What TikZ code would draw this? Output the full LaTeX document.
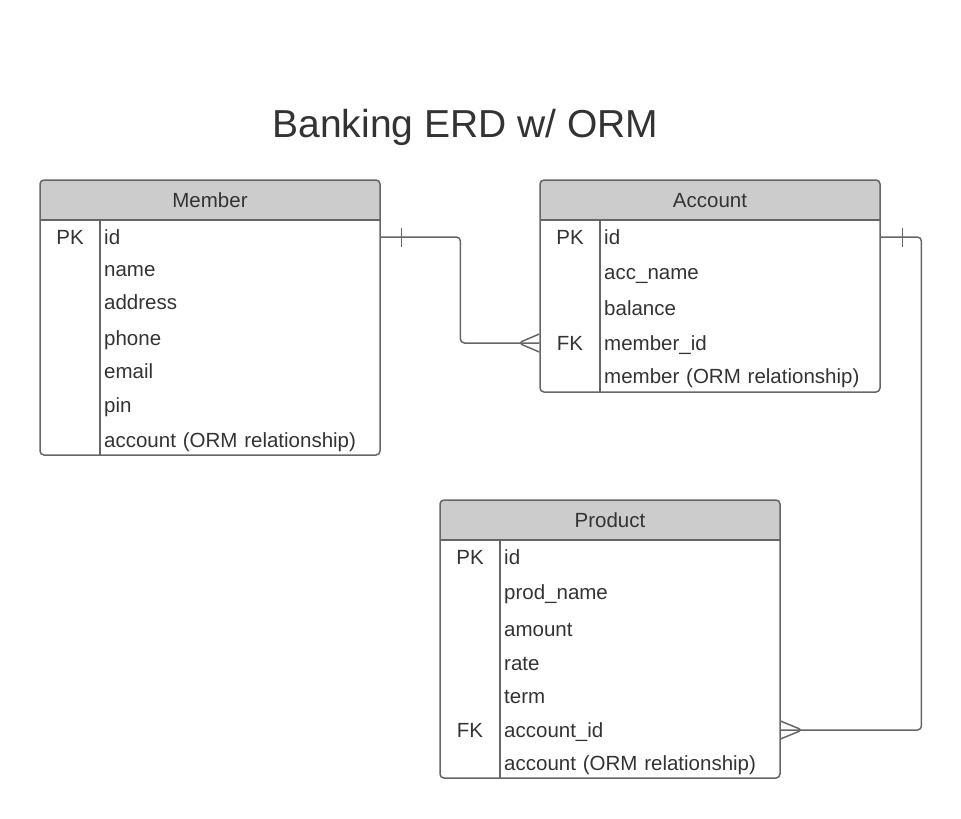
\documentclass[tikz,border=0pt]{standalone}
\usepackage{fontspec}
\setmainfont{Liberation Sans}
\definecolor{erdline}{HTML}{666666}
\definecolor{erdhead}{HTML}{CCCCCC}
\definecolor{erdtext}{HTML}{333333}
\begin{document}
\begin{tikzpicture}[x=1pt,y=-1pt,
    tablebox/.style={draw=erdline,line width=1.5pt,rounded corners=4pt,minimum width=340pt,inner sep=0pt},
    cell/.style={text=erdtext,font=\fontsize{20.5}{24}\selectfont,text height=18pt,text depth=4pt,inner sep=0pt},
    field/.style={cell,anchor=west,text width=272pt,inner xsep=4pt,align=left},
    rule/.style={draw=erdline,line width=1.5pt},
    link/.style={draw=erdline,line width=1.5pt,rounded corners=4pt}]
  \useasboundingbox (0,0) rectangle (961,819);
  \node[text=erdtext,font=\fontsize{39}{46}\selectfont,anchor=base] (title) at (465.5,137) {Banking ERD w/ ORM};

  % Member
  \fill[erdhead,rounded corners=4pt] (40,180) rectangle (380,220);
  \fill[erdhead] (40,200) rectangle (380,220);
  \node[tablebox,minimum height=275pt] (member) at (210,317.5) {};
  \draw[rule] (40,220) -- (380,220) (100,220) -- (100,455);
  \node[cell] (m-head) at (210,200) {Member};
  \node[cell] (m-pk) at (70,237) {PK};
  \node[field] (m-id) at (100,237) {id};
  \node[field] (m-name) at (100,269) {name};
  \node[field] (m-address) at (100,302) {address};
  \node[field] (m-phone) at (100,338) {phone};
  \node[field] (m-email) at (100,371) {email};
  \node[field] (m-pin) at (100,405) {pin};
  \node[field] (m-account) at (100,440) {account (ORM relationship)};

  % Account
  \fill[erdhead,rounded corners=4pt] (540,180) rectangle (880,220);
  \fill[erdhead] (540,200) rectangle (880,220);
  \node[tablebox,minimum height=212pt] (account) at (710,286) {};
  \draw[rule] (540,220) -- (880,220) (600,220) -- (600,392);
  \node[cell] (a-head) at (710,200) {Account};
  \node[cell] (a-pk) at (570,237) {PK};
  \node[field] (a-id) at (600,237) {id};
  \node[field] (a-accname) at (600,272) {acc\_name};
  \node[field] (a-balance) at (600,308) {balance};
  \node[cell] (a-fk) at (570,343) {FK};
  \node[field] (a-memberid) at (600,343) {member\_id};
  \node[field] (a-member) at (600,376) {member (ORM relationship)};

  % Product
  \fill[erdhead,rounded corners=4pt] (440,500) rectangle (780,540);
  \fill[erdhead] (440,520) rectangle (780,540);
  \node[tablebox,minimum height=278pt] (product) at (610,639) {};
  \draw[rule] (440,540) -- (780,540) (500,540) -- (500,778);
  \node[cell] (p-head) at (610,520) {Product};
  \node[cell] (p-pk) at (470,557) {PK};
  \node[field] (p-id) at (500,557) {id};
  \node[field] (p-prodname) at (500,592) {prod\_name};
  \node[field] (p-amount) at (500,629) {amount};
  \node[field] (p-rate) at (500,663) {rate};
  \node[field] (p-term) at (500,696) {term};
  \node[cell] (p-fk) at (470,730) {FK};
  \node[field] (p-accountid) at (500,730) {account\_id};
  \node[field] (p-account) at (500,763) {account (ORM relationship)};

  % relationships
  \coordinate (am-end) at (account.west |- a-memberid);
  \draw[link] (m-id.east) -- ++(80,0) |- (am-end);
  \draw[link] ([xshift=21pt,yshift=9.5pt]m-id.east) -- ([xshift=21pt,yshift=-9.5pt]m-id.east);
  \draw[link] ([yshift=9pt]am-end) -- ([xshift=-21pt]am-end) -- ([yshift=-9pt]am-end);
  \draw[link] (a-id.east) -- ++(41,0) |- (p-accountid.east);
  \draw[link] ([xshift=22pt,yshift=9.5pt]a-id.east) -- ([xshift=22pt,yshift=-9.5pt]a-id.east);
  \draw[link] ([yshift=9pt]p-accountid.east) -- ([xshift=22pt]p-accountid.east) -- ([yshift=-9pt]p-accountid.east);
\end{tikzpicture}
\end{document}
